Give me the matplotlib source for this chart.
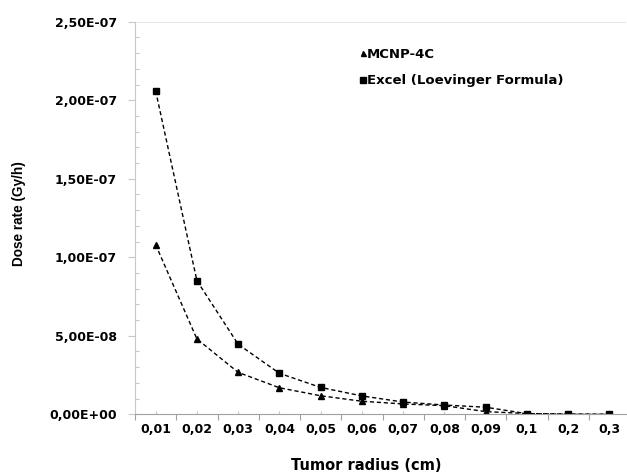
import matplotlib.pyplot as plt
import numpy as np
from matplotlib.ticker import FixedLocator, MultipleLocator, FuncFormatter

# tumor radius categories (cm)
radius = ["0,01", "0,02", "0,03", "0,04", "0,05", "0,06",
          "0,07", "0,08", "0,09", "0,1", "0,2", "0,3"]
# dose rate (Gy/h)
mcnp = [1.08e-7, 4.8e-8, 2.67e-8, 1.69e-8, 1.18e-8, 8.3e-9,
        6.6e-9, 5.5e-9, 1.7e-9, 5e-10, 1e-10, 0.0]
excel = [2.06e-7, 8.51e-8, 4.46e-8, 2.61e-8, 1.71e-8, 1.17e-8,
         7.8e-9, 5.9e-9, 4.5e-9, 4e-10, 1e-10, 0.0]

W, H = 627, 474
fig = plt.figure(figsize=(W / 100, H / 100), dpi=100)
ax = fig.add_axes([135 / W, 1 - 414.3 / H, (626 - 135) / W, (414.3 - 21.7) / H])

font = "DejaVu Sans"
x = np.arange(len(radius))

ax.plot(x, mcnp, ls="--", color="black", lw=1.0, dashes=(3, 2),
        marker="^", ms=4.5, label="MCNP-4C")
ax.plot(x, excel, ls="--", color="black", lw=1.0, dashes=(3, 2),
        marker="s", ms=5, label="Excel (Loevinger Formula)")

ax.set_xlim(-0.5, 11.4)
ax.set_ylim(0, 2.5e-7)

grey = "#c8c8c8"
for s in ["right", "top"]:
    ax.spines[s].set_visible(False)
ax.spines["left"].set_color(grey)
ax.spines["bottom"].set_color("#a0a0a0")
ax.axhline(2.5e-7, color="#e0e0e0", lw=1.2)

ax.set_xticks(x)
ax.set_xticklabels(radius, fontfamily=font, fontweight="bold", fontsize=9)
ax.xaxis.set_minor_locator(FixedLocator(np.arange(-0.5, 12, 1)))
ax.tick_params(axis="x", which="major", length=2, width=0.8, color=grey,
               direction="in", pad=6)
ax.tick_params(axis="x", which="minor", length=4, width=0.8, color="#a0a0a0",
               direction="out")

ax.yaxis.set_major_locator(MultipleLocator(5e-8))
ax.yaxis.set_minor_locator(MultipleLocator(1e-8))
ax.yaxis.set_major_formatter(FuncFormatter(
    lambda v, p: ("%.2E" % v).replace(".", ",")))
ax.tick_params(axis="y", which="major", length=5, width=0.8, color=grey,
               direction="out", pad=8)
ax.tick_params(axis="y", which="minor", length=3, width=0.8, color=grey,
               direction="in")
for lab in ax.get_yticklabels():
    lab.set_fontfamily(font)
    lab.set_fontweight("bold")
    lab.set_fontsize(9)

fig.text(366 / W, 1 - 465 / H, "Tumor radius (cm)", ha="center", va="center",
         fontfamily=font, fontweight="bold", fontsize=10.5)
fig.text(19 / W, 1 - 214 / H, "Dose rate (Gy/h)", ha="center", va="center",
         rotation=90, fontfamily="Liberation Sans", fontweight="bold",
         fontsize=9.8)

leg = ax.legend(loc="upper left", bbox_to_anchor=((349 - 135) / 491, 1 - 14 / 392.6),
                frameon=False, handlelength=0.25, handletextpad=0.2,
                labelspacing=1.05, markerscale=0.8,
                prop={"family": font, "weight": "bold", "size": 9.5})
for h in leg.legend_handles:
    h.set_linestyle("none")

fig.savefig("out.png", dpi=100)
